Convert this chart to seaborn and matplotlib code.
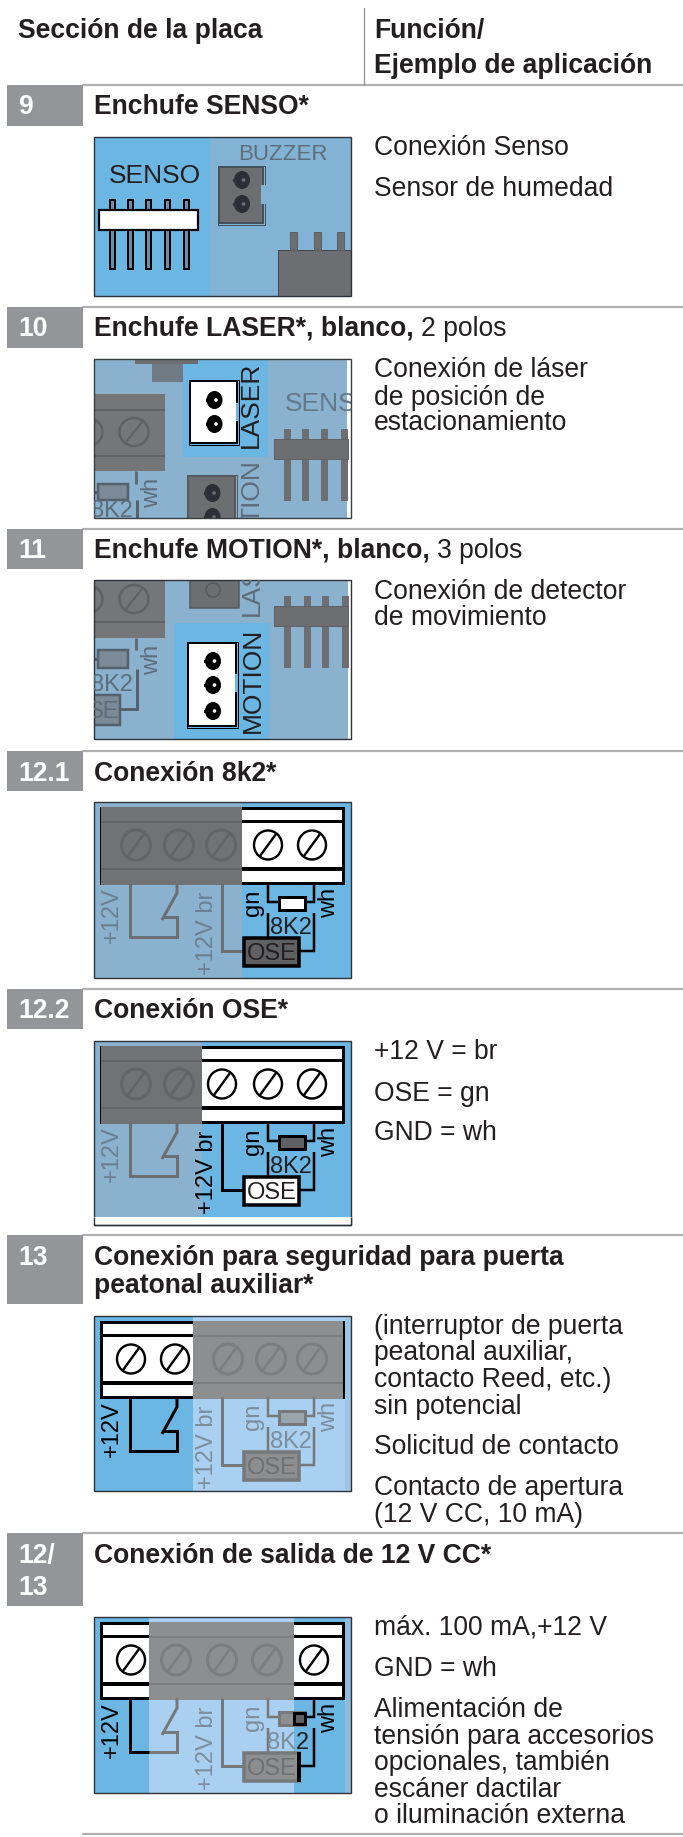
import matplotlib
matplotlib.use("Agg")
import matplotlib.pyplot as plt
from matplotlib.patches import Rectangle, Ellipse
import pandas as pd
import seaborn as sns

sns.set_theme(style="white")
plt.rcParams['font.family'] = ['Liberation Sans', 'DejaVu Sans']

# ---------- content ----------
header_left = "Sección de la placa"
header_right = ["Función/", "Ejemplo de aplicación"]
row_numbers = [["9"], ["10"], ["11"], ["12.1"], ["12.2"], ["13"], ["12/", "13"]]
row_titles_bold = [["Enchufe SENSO*"], ["Enchufe LASER*, blanco,"], ["Enchufe MOTION*, blanco,"],
                   ["Conexión 8k2*"], ["Conexión OSE*"],
                   ["Conexión para seguridad para puerta", "peatonal auxiliar*"],
                   ["Conexión de salida de 12 V CC*"]]
row_titles_regular = ["", "2 polos", "3 polos", "", "", "", ""]
row_notes = [["Conexión Senso", "Sensor de humedad"],
             ["Conexión de láser", "de posición de", "estacionamiento"],
             ["Conexión de detector", "de movimiento"],
             [],
             ["+12 V = br", "OSE = gn", "GND = wh"],
             ["(interruptor de puerta", "peatonal auxiliar,", "contacto Reed, etc.)", "sin potencial",
              "Solicitud de contacto", "Contacto de apertura", "(12 V CC, 10 mA)"],
             ["máx. 100 mA,+12 V", "GND = wh", "Alimentación de", "tensión para accesorios",
              "opcionales, también", "escáner dactilar", "o iluminación externa"]]

# ---------- layout (pixels of the page) ----------
rule_y = [85, 307, 529, 751, 989, 1235, 1533, 1834]
box_bottom = [126, 348, 569, 791, 1029, 1304, 1606]
number_base = [[114], [336], [558], [781], [1018], [1265], [1563, 1595]]
title_base = [[114], [336], [558], [781], [1018], [1265, 1293], [1563]]
note_base = [[155, 196], [377, 405, 430], [599, 625], [], [1059, 1101, 1140],
             [1334, 1360, 1387, 1414, 1454, 1495, 1522], [1635, 1676, 1717, 1744, 1770, 1797, 1823]]

BLUE, GREYBLUE, LIGHT = "#6cb6e4", "#8ab2cf", "#a9d0f0"
DARK, MID, INK = "#6f7072", "#5f6d7a", "#231f20"
BOX, RULE = "#939598", "#aeb0b2"
FS = 19.1
PX = 0.72

fig = plt.figure(figsize=(6.83, 18.37), dpi=100, facecolor="white")
ax = fig.add_axes([0, 0, 1, 1])
ax.set_xlim(0, 683)
ax.set_ylim(1837, 0)
sns.despine(ax=ax, left=True, bottom=True)
ax.set_xticks([])
ax.set_yticks([])

z = [10]
clip = [None]


def nz():
    z[0] += 1
    return z[0]


def _c(a):
    if clip[0] is not None:
        a.set_clip_path(clip[0])
    return a


def rect(x0, y0, x1, y1, fc, ec="none", lw=0):
    return _c(ax.add_patch(Rectangle((x0, y0), x1 - x0, y1 - y0, fc=fc, ec=ec, lw=lw * PX, zorder=nz())))


def ell(x, y, w, h, fc, ec="none", lw=0):
    return _c(ax.add_patch(Ellipse((x, y), w, h, fc=fc, ec=ec, lw=lw * PX, zorder=nz())))


def line(pts, color, lw=3):
    xs, ys = zip(*pts)
    l, = ax.plot(xs, ys, color=color, lw=lw * PX, zorder=nz(), solid_capstyle="butt", solid_joinstyle="miter")
    return _c(l)


def txt(x, y, s, size=FS, color=INK, ha="left", va="baseline", rot=0, weight="normal", rm="anchor"):
    t = ax.text(x, y, s, fontsize=size, color=color, ha=ha, va=va, rotation=rot, fontweight=weight,
                rotation_mode=rm, zorder=nz() + 1000, clip_on=clip[0] is not None)
    return _c(t)


def begin(x0, y0, x1, y1):
    clip[0] = Rectangle((x0, y0), x1 - x0, y1 - y0, transform=ax.transData)


def end(x0, y0, x1, y1, color="#2f3338"):
    clip[0] = None
    rect(x0, y0, x1, y1, "none", color, 1.4)


def hole(x, y, fc="black", dot="white"):
    ell(x, y, 16, 18, fc)
    rect(x - 9, y - 1.5, x - 6, y + 1.5, fc)
    ell(x + 1.5, y, 3.6, 3.6, dot)


def connector(x0, y0, x1, y1, fc, ec, holes, hole_fc, hole_dot, lw=2):
    rect(x0 - 1.5, y0 - 1.5, x1 + 1.5, y1 + 1.5, "none", ec, 1)
    rect(x0, y0, x1, y1, fc, ec, lw)
    for hy in holes:
        hole((x0 + x1) / 2 + 1, hy, hole_fc, hole_dot)


def header_pins(xs, y0, y1, w, fc, ec, lw=1):
    for x in xs:
        rect(x - w / 2, y0, x + w / 2, y1, fc, ec, lw)


# ---------- table frame ----------
frame = pd.DataFrame({
    "x": [83, 683] * len(rule_y),
    "y": [v for y in rule_y for v in (y, y)],
    "row": [i for i in range(len(rule_y)) for _ in (0, 1)],
})
sns.lineplot(data=frame, x="x", y="y", units="row", estimator=None, color=RULE, lw=1.6, ax=ax, legend=False, zorder=5)
ax.plot([364, 364], [8, 85], color="#8f9193", lw=0.9, zorder=5)
ax.set_xlabel("")
ax.set_ylabel("")
ax.set_xlim(0, 683)
ax.set_ylim(1837, 0)

txt(18, 38, header_left, weight="bold")
txt(374, 38, header_right[0], weight="bold")
txt(374, 73, header_right[1], weight="bold")

fig.canvas.draw()
rend = fig.canvas.get_renderer()
for i, nums in enumerate(row_numbers):
    rect(7, rule_y[i], 83, box_bottom[i], BOX)
    for s, y in zip(nums, number_base[i]):
        txt(18, y, s, color="white", weight="bold")
    last = None
    for s, y in zip(row_titles_bold[i], title_base[i]):
        last = txt(94, y, s, weight="bold")
    if row_titles_regular[i]:
        bb = last.get_window_extent(rend)
        txt(bb.x1 + 7, title_base[i][0], row_titles_regular[i])
    for s, y in zip(row_notes[i], note_base[i]):
        txt(374, y, s)

# ---------- panel 9 ----------
X0, X1 = 94, 351
y0, y1 = 137, 296
begin(X0, y0, X1, y1)
rect(X0, y0, X1, y1, "#82b3d5")
rect(X0, y0, 210, y1, BLUE)
txt(283, 160, "BUZZER", size=16, color=MID, ha="center")
txt(155, 183, "SENSO", size=19, ha="center")
header_pins([112, 130, 148, 167, 186], 200, 269, 5, "#6d8ea6", "black", 2)
rect(99, 210, 198, 230, "white", "black", 2.2)
connector(219, 167, 263, 223, "#6d6e71", "#44505a", [180, 204], "#2c3036", "#6d6e71")
rect(261, 185, 267, 204, "#82b3d5")
rect(278, 250, 351, 296, "#6d6e71", "#44484c", 1)
header_pins([293, 317, 340], 232, 250, 7, "#6d6e71", "#5b5f63")
end(X0, y0, X1, y1)

# ---------- panel 10 ----------
y0, y1 = 359, 518
begin(X0, y0, X1, y1)
rect(X0, y0, 347, y1, GREYBLUE)
rect(347, y0, X1, y1, "white")
rect(183, y0, 268, 457, BLUE)
rect(135, y0 + 1, 198, 364, "#6d6e71")
rect(152, 364, 183, 382, "#6f7a84")
rect(X0, 394, 165, 471, "#757678")
for yy in (410, 456):
    line([(X0, yy), (165, yy)], "#606163", 2)
for sx in (134, 88):
    ell(sx, 432, 29, 28, "none", "#606163", 2.5)
    line([(sx - 8, 442), (sx + 8, 422)], "#606163", 2)
line([(136, 471), (136, 484)], "#5e6a74")
rect(98, 484, 128, 500, "#7b8a96", "#55626d", 2.5)
line([(94, 492), (98, 492)], "#55626d")
line([(137, 500), (137, 518)], "#55626d")
txt(152, 493, "wh", size=17, color=MID, ha="center", va="center", rot=90)
txt(133, 517, "8K2", size=17, color=MID, ha="right")
connector(190, 381, 237, 443, "white", "black", [400, 424], "black", "white")
rect(236, 403, 239, 421, BLUE)
txt(251, 405, "LASER", size=19, ha="center", va="center", rot=90)
txt(252, 460, "TION", size=19, color=MID, ha="center", va="top", rot=90, rm="default")
connector(188, 476, 235, 530, "#6d6e71", "#56595d", [493, 517], "#2c3036", "#6d6e71")
txt(285, 411, "SENS", size=19, color="#64788b")
header_pins([287, 305, 324, 344], 429, 500, 6, "#6d6e71", "#6d6e71")
rect(274, 439, 348, 459, "#6d6e71", "#606164", 1)
end(X0, y0, X1, y1, "#3a3d40")

# ---------- panel 11 ----------
y0, y1 = 580, 739
begin(X0, y0, X1, y1)
rect(X0, y0, 348, y1, GREYBLUE)
rect(348, y0, X1, y1, "white")
rect(174, 623, 269, y1, BLUE)
rect(X0, y0 - 10, 165, 638, "#757678")
line([(X0, 622), (165, 622)], "#606163", 2)
for sx in (134, 88):
    ell(sx, 599, 29, 28, "none", "#606163", 2.5)
    line([(sx - 8, 609), (sx + 8, 589)], "#606163", 2)
line([(136, 638), (136, 650)], "#5e6a74")
rect(98, 650, 128, 668, "#7b8a96", "#55626d", 2.5)
line([(94, 659), (98, 659)], "#55626d")
line([(137, 669), (137, 709), (120, 709)], "#55626d")
rect(88, 695, 120, 725, "#7b8a96", "#55626d", 2.5)
txt(119, 718, "SE", size=17, color=MID, ha="right")
txt(152, 660, "wh", size=17, color=MID, ha="center", va="center", rot=90)
txt(133, 691, "8K2", size=17, color=MID, ha="right")
rect(190, y0 - 5, 239, 608, "#6d6e71", "#56595d", 1.5)
ell(213, 590, 14, 14, "none", "#56595d", 1.5)
txt(252, 616, "LAS", size=19, color=MID, ha="center", va="bottom", rot=90, rm="default")
header_pins([287, 307, 325, 345], 596, 667, 6, "#6d6e71", "#6d6e71")
rect(274, 606, 348, 626, "#6d6e71", "#606164", 1)
connector(188, 643, 236, 726, "white", "black", [661, 685, 711], "black", "white")
rect(235, 674, 238, 692, BLUE)
txt(253, 680, "MOTION", size=19, ha="center", va="center", rot=90)
end(X0, y0, X1, y1)


# ---------- wiring panels ----------
def terminal(y, screws_on, screws_off, mask, block="#717274", seam="#636466"):
    top, bot = y + 6, y + 81
    rect(101, top, 343, bot, "white", "black", 3)
    rect(101, y + 18, 343, y + 21, "black")
    rect(101, y + 65, 343, y + 69, "black")
    for sx in screws_on:
        ell(sx, y + 43, 28, 29, "white", "black", 2.4)
        line([(sx - 8, y + 54), (sx + 8, y + 32)], "black", 2.4)
    rect(mask[0], top - 1.5, mask[1], bot + 1.5, block)
    line([(mask[0], y + 20), (mask[1], y + 20)], seam, 2)
    line([(mask[0], y + 67), (mask[1], y + 67)], seam, 2)
    for sx in screws_off:
        ell(sx, y + 43, 29, 30, "none", seam, 3)
        line([(sx - 8, y + 54), (sx + 8, y + 32)], seam, 2.6)


def wiring(y, c):
    line([(130, y + 81), (130, y + 135), (177, y + 135), (177, y + 115), (162, y + 115)], c["sw"], 3)
    line([(162, y + 118), (177, y + 91), (177, y + 81)], c["sw"], 3)
    line([(222, y + 81), (222, y + 149), (243, y + 149)], c["br"], 3)
    line([(268, y + 81), (268, y + 100), (279, y + 100)], c["gn"], 2.5)
    line([(314, y + 81), (314, y + 100), (305, y + 100)], c["wh"], 2.5)
    rect(279, y + 95, 305, y + 108, c["res"], c["resec"], 3)
    line([(268, y + 111), (268, y + 135)], c["gn"], 2.5)
    line([(314, y + 111), (314, y + 149), (300, y + 149)], c["wh"], 2.5)
    rect(244, y + 136, 299, y + 164, c["ose"], c["oseec"], 3.5)
    txt(112, y + 113, "+12V", size=17, color=c["plus_t"], ha="center", va="center", rot=90)
    txt(207, y + 131, "+12V br", size=17, color=c["br_t"], ha="center", va="center", rot=90)
    txt(253, y + 101, "gn", size=17, color=c["gn_t"], ha="center", va="center", rot=90)
    txt(329, y + 101, "wh", size=17, color=c["wh_t"], ha="center", va="center", rot=90)
    txt(272, y + 158, "OSE", size=17, color=c["ose_t"], ha="center")


G1 = "#6d6e71"
G1T = "#6b7f90"
G2 = "#77787a"
G2T = "#7d8d9b"

# 12.1
y0, y1 = 802, 978
begin(X0, y0, X1, y1)
rect(X0, y0, X1, y1, BLUE)
rect(X0, y0, 242, y1, GREYBLUE)
terminal(y0, [268, 312], [136, 179, 221], (101, 242))
wiring(y0, dict(sw=G1, br=G1, gn="black", wh="black", res="white", resec="black", ose="#5f6062", oseec="black",
                plus_t=G1T, br_t=G1T, gn_t="black", wh_t="black", ose_t=INK))
txt(291, y0 + 132, "8K2", size=17, ha="center")
end(X0, y0, X1, y1)

# 12.2
y0, y1 = 1041, 1217
begin(X0, y0, X1, y1)
rect(X0, y0, X1, y1, BLUE)
rect(X0, y0, 202, y1, GREYBLUE)
terminal(y0, [222, 268, 312], [136, 179], (101, 202))
wiring(y0, dict(sw=G1, br="black", gn="black", wh="black", res="#5f6062", resec="black", ose="white", oseec="black",
                plus_t=G1T, br_t="black", gn_t="black", wh_t="black", ose_t=INK))
txt(291, y0 + 132, "8K2", size=17, ha="center")
end(X0, y0, X1, y1 + 8)
rect(X0 - 1, 1217, X1 + 1, 1224, "white")
line([(X0, 1217), (X0, 1225), (X1, 1225), (X1, 1217)], "#2f3338", 1.4)

# 13
y0, y1 = 1316, 1491
begin(X0, y0, X1, y1)
rect(X0, y0, X1, y1, BLUE)
rect(193, y0, X1, y1, LIGHT)
rect(345, y0, X1, y1, "#9cc6e6")
terminal(y0, [131, 175], [228, 271, 312], (193, 343), block="#8d8e90", seam="#7c7d7f")
wiring(y0, dict(sw="black", br=G2, gn=G2, wh=G2, res="#9aa4ac", resec=G2, ose="#8d8e90", oseec=G2,
                plus_t="black", br_t=G2T, gn_t=G2T, wh_t=G2T, ose_t="#6f7072"))
txt(291, y0 + 132, "8K2", size=17, color=G2T, ha="center")
end(X0, y0, X1, y1)

# 12/13
y0, y1 = 1617, 1793
begin(X0, y0, X1, y1)
rect(X0, y0, X1, y1, BLUE)
rect(149, y0, 294, y1, LIGHT)
rect(345, y0, X1, y1, "#8fbbdc")
terminal(y0, [131, 314], [176, 222, 267], (149, 294), block="#8d8e90", seam="#7c7d7f")
wiring(y0, dict(sw=G2, br=G2, gn=G2, wh="black", res="#8d8e90", resec=G2, ose="#8d8e90", oseec=G2,
                plus_t="black", br_t=G2T, gn_t=G2T, wh_t="black", ose_t="#6f7072"))
line([(130, y0 + 81), (130, y0 + 135), (149, y0 + 135)], "black", 3)
rect(294, y0 + 96, 305, y0 + 107, "#5f6062", "black", 3)
line([(299, y0 + 135), (299, y0 + 165)], "black", 4)
txt(296, y0 + 132, "8K", size=17, color=G2T, ha="right")
txt(296, y0 + 132, "2", size=17, ha="left")
end(X0, y0, X1, y1)

fig.savefig("out.png", dpi=100, facecolor="white")
